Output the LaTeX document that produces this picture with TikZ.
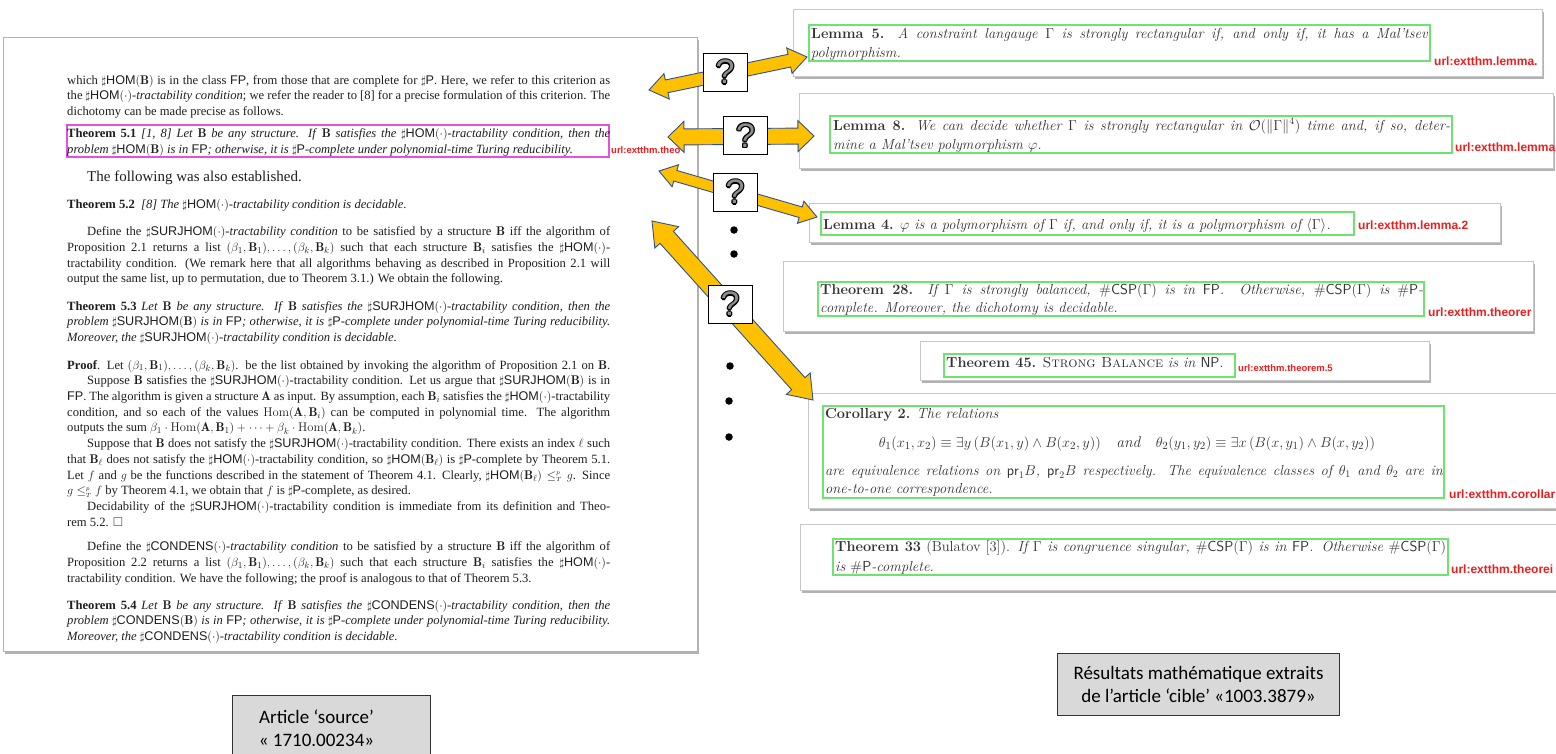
\documentclass[tikz,border=0pt]{standalone}
\usepackage{fontspec}
\usepackage{amssymb}
\newfontfamily\timesf{Liberation Serif}
\newfontfamily\arialf{Liberation Sans}
\newfontfamily\calib{Carlito}
\usetikzlibrary{calc,shadows}
\definecolor{arrowfill}{RGB}{255,192,0}
\definecolor{arrowline}{RGB}{47,82,143}
\definecolor{grn}{RGB}{110,228,110}
\definecolor{mag}{RGB}{228,80,228}
\definecolor{urlred}{RGB}{235,30,30}
\definecolor{lblfill}{RGB}{217,217,217}
\newcommand\jl[1]{\makebox[543pt][s]{#1}}
\newcommand\jw[2]{\makebox[#1pt][s]{#2}}
\newcommand\hs[1]{$\sharp${\arialf\upshape #1}}
\newcommand\fp{{\arialf\upshape FP}}
\newcommand\bB{$\mathbf{B}$}
\newcommand\dt{$(\cdot)$}
\newcommand\lst{$(\beta_1,\mathbf{B}_1),\ldots,(\beta_k,\mathbf{B}_k)$}
\newcommand\qmk{\setbox0\hbox{?}%
  \rlap{\color{black}\kern-1.2pt\copy0}\rlap{\color{black}\kern1.2pt\copy0}%
  \rlap{\color{black}\raise1.2pt\copy0}\rlap{\color{black}\lower1.2pt\copy0}%
  \rlap{\color{black}\kern-0.85pt\raise0.85pt\copy0}\rlap{\color{black}\kern0.85pt\raise0.85pt\copy0}%
  \rlap{\color{black}\kern-0.85pt\lower0.85pt\copy0}\rlap{\color{black}\kern0.85pt\lower0.85pt\copy0}%
  {\color{black!45}\box0}}
% double block arrow between two named coordinates: #3 shaft half width, #4 head half width, #5 head length
\newcommand\dblarrow[5]{%
  \draw[blockarrow] (#1) -- ($(#1)!#5pt!(#2)!#4pt!90:(#2)$) -- ($(#1)!#5pt!(#2)!#3pt!90:(#2)$)
    -- ($(#2)!#5pt!(#1)!#3pt!-90:(#1)$) -- ($(#2)!#5pt!(#1)!#4pt!-90:(#1)$) -- (#2)
    -- ($(#2)!#5pt!(#1)!#4pt!90:(#1)$) -- ($(#2)!#5pt!(#1)!#3pt!90:(#1)$)
    -- ($(#1)!#5pt!(#2)!#3pt!-90:(#2)$) -- ($(#1)!#5pt!(#2)!#4pt!-90:(#2)$) -- cycle;}
\begin{document}
\begin{tikzpicture}[x=1pt,y=-1pt,
  panel/.style={fill=white, draw=black!30, line width=0.6pt,
    drop shadow={shadow xshift=2pt, shadow yshift=-3pt, fill=black!55, opacity=0.55}},
  card/.style={fill=white, draw=black!22, line width=0.6pt, anchor=north west, inner sep=0pt,
    drop shadow={shadow xshift=1.5pt, shadow yshift=-3pt, fill=black!55, opacity=0.55}},
  gbox/.style={draw=grn, line width=1.2pt},
  mbox/.style={draw=mag, line width=1.1pt},
  txt/.style={anchor=base west, inner sep=0pt, text=black!88,
    font=\timesf\fontsize{12.6}{14}\selectfont},
  ctxt/.style={anchor=base west, inner sep=0pt, text=black!80,
    font=\fontsize{14.5}{17}\selectfont},
  url/.style={anchor=base west, inner sep=0pt, text=urlred,
    font=\arialf\bfseries\fontsize{12}{12}\selectfont},
  blockarrow/.style={fill=arrowfill, draw=arrowline, line width=0.9pt, line join=miter},
  qbox/.style={draw=black, line width=1pt, fill=white, minimum width=44, minimum height=38,
    inner sep=0pt, font=\arialf\fontsize{34}{34}\selectfont},
  dotn/.style={circle, fill=black, inner sep=0pt, minimum size=7.5},
  lbl/.style={draw=black!80, line width=1pt, fill=lblfill, anchor=north west, inner sep=0pt,
    align=center, font=\calib\fontsize{19}{23}\selectfont}
]
\fill[white] (0,0) rectangle (1556,753);
\useasboundingbox (0,0) rectangle (1556,753);

% ---------------- left source article ----------------
\node[panel, anchor=north west, minimum width=694, minimum height=614, inner sep=0pt] (src) at (3,37) {};
\draw[mbox] (67,125) rectangle (609,157);
\node[txt] (l1) at (67,84) {\jl{which \hs{HOM}$(\mathbf{B})$ is in the class \fp, from those that are complete for \hs{P}. Here, we refer to this criterion as}};
\node[txt] (l2) at (67,99.7) {\jl{the \hs{HOM}\dt-\textit{tractability condition}; we refer the reader to [8] for a precise formulation of this criterion. The}};
\node[txt] (l3) at (67,115.4) {dichotomy can be made precise as follows.};
\node[txt] (t51a) at (67,137.4) {\jl{\textbf{Theorem 5.1} \textit{[1, 8] Let} \bB{} \textit{be any structure. If} \bB{} \textit{satisfies the} \hs{HOM}\dt\textit{-tractability condition, then the}}};
\node[txt] (t51b) at (67,153.1) {\textit{problem} \hs{HOM}$(\mathbf{B})$ \textit{is in} \fp\textit{; otherwise, it is} \hs{P}\textit{-complete under polynomial-time Turing reducibility.}};
\node[url, font=\arialf\bfseries\fontsize{9.5}{10}\selectfont] (u0) at (611,153.1) {url:extthm.theo};
\node[txt, font=\timesf\fontsize{15}{16}\selectfont] (fol) at (67,181.5) {\hspace*{20pt}The following was also established.};
\node[txt] (t52) at (67,208.1) {\textbf{Theorem 5.2} \ \textit{[8] The} \hs{HOM}\dt\textit{-tractability condition is decidable.}};
\node[txt] (d1) at (67,235.6) {\jl{\hspace*{20pt}Define the \hs{SURJHOM}\dt-\textit{tractability condition} to be satisfied by a structure \bB{} iff the algorithm of}};
\node[txt] (d2) at (67,251.3) {\jl{Proposition 2.1 returns a list \lst{} such that each structure $\mathbf{B}_i$ satisfies the \hs{HOM}\dt-}};
\node[txt] (d3) at (67,267) {\jl{tractability condition. (We remark here that all algorithms behaving as described in Proposition 2.1 will}};
\node[txt] (d4) at (67,282.7) {output the same list, up to permutation, due to Theorem 3.1.) We obtain the following.};
\node[txt] (t53a) at (67,310.2) {\jl{\textbf{Theorem 5.3} \textit{Let} \bB{} \textit{be any structure. If} \bB{} \textit{satisfies the} \hs{SURJHOM}\dt\textit{-tractability condition, then the}}};
\node[txt] (t53b) at (67,325.9) {\jl{\textit{problem} \hs{SURJHOM}$(\mathbf{B})$ \textit{is in} \fp\textit{; otherwise, it is} \hs{P}\textit{-complete under polynomial-time Turing reducibility.}}};
\node[txt] (t53c) at (67,341.6) {\textit{Moreover, the} \hs{SURJHOM}\dt\textit{-tractability condition is decidable.}};
\node[txt] (p1) at (67,369.1) {\jl{\textbf{Proof}. Let \lst. be the list obtained by invoking the algorithm of Proposition 2.1 on \bB.}};
\node[txt] (p2) at (67,384.8) {\jl{\hspace*{20pt}Suppose \bB{} satisfies the \hs{SURJHOM}\dt-tractability condition. Let us argue that \hs{SURJHOM}$(\mathbf{B})$ is in}};
\node[txt] (p3) at (67,400.5) {\jl{\fp. The algorithm is given a structure $\mathbf{A}$ as input. By assumption, each $\mathbf{B}_i$ satisfies the \hs{HOM}\dt-tractability}};
\node[txt] (p4) at (67,416.2) {\jl{condition, and so each of the values $\mathrm{Hom}(\mathbf{A},\mathbf{B}_i)$ can be computed in polynomial time. The algorithm}};
\node[txt] (p5) at (67,431.9) {outputs the sum $\beta_1\cdot\mathrm{Hom}(\mathbf{A},\mathbf{B}_1)+\cdots+\beta_k\cdot\mathrm{Hom}(\mathbf{A},\mathbf{B}_k)$.};
\node[txt] (p6) at (67,447.6) {\jl{\hspace*{20pt}Suppose that \bB{} does not satisfy the \hs{SURJHOM}\dt-tractability condition. There exists an index $\ell$ such}};
\node[txt] (p7) at (67,463.3) {\jl{that $\mathbf{B}_\ell$ does not satisfy the \hs{HOM}\dt-tractability condition, so \hs{HOM}$(\mathbf{B}_\ell)$ is \hs{P}-complete by Theorem 5.1.}};
\node[txt] (p8) at (67,479) {\jl{Let $f$ and $g$ be the functions described in the statement of Theorem 4.1. Clearly, \hs{HOM}$(\mathbf{B}_\ell)\leq^{\scriptscriptstyle p}_{\scriptscriptstyle T} g$. Since}};
\node[txt] (p9) at (67,494.7) {$g\leq^{\scriptscriptstyle p}_{\scriptscriptstyle T} f$ by Theorem 4.1, we obtain that $f$ is \hs{P}-complete, as desired.};
\node[txt] (p10) at (67,510.4) {\jl{\hspace*{20pt}Decidability of the \hs{SURJHOM}\dt-tractability condition is immediate from its definition and Theo-}};
\node[txt] (p11) at (67,526.1) {rem 5.2. $\square$};
\node[txt] (c1) at (67,550.9) {\jl{\hspace*{20pt}Define the \hs{CONDENS}\dt-\textit{tractability condition} to be satisfied by a structure \bB{} iff the algorithm of}};
\node[txt] (c2) at (67,566.6) {\jl{Proposition 2.2 returns a list \lst{} such that each structure $\mathbf{B}_i$ satisfies the \hs{HOM}\dt-}};
\node[txt] (c3) at (67,582.3) {tractability condition. We have the following; the proof is analogous to that of Theorem 5.3.};
\node[txt] (t54a) at (67,609) {\jl{\textbf{Theorem 5.4} \textit{Let} \bB{} \textit{be any structure. If} \bB{} \textit{satisfies the} \hs{CONDENS}\dt\textit{-tractability condition, then the}}};
\node[txt] (t54b) at (67,624.7) {\jl{\textit{problem} \hs{CONDENS}$(\mathbf{B})$ \textit{is in} \fp\textit{; otherwise, it is} \hs{P}\textit{-complete under polynomial-time Turing reducibility.}}};
\node[txt] (t54c) at (67,640.4) {\textit{Moreover, the} \hs{CONDENS}\dt\textit{-tractability condition is decidable.}};

% ---------------- right target cards ----------------
\node[card, minimum width=749, minimum height=67] (k1) at (793,9) {};
\node[card, minimum width=754, minimum height=75] (k2) at (799,93) {};
\node[card, minimum width=691, minimum height=39] (k3) at (809,203) {};
\node[card, minimum width=750, minimum height=70] (k4) at (783,261) {};
\node[card, minimum width=509, minimum height=39] (k5) at (920,341) {};
\node[card, minimum width=752, minimum height=115] (k6) at (808,393) {};
\node[card, minimum width=760, minimum height=66] (k7) at (800,524) {};

\draw[gbox] (809,25) rectangle (1430,61);
\draw[gbox] (830,116) rectangle (1452,153);
\draw[gbox] (821,212) rectangle (1354,235);
\draw[gbox] (818,282) rectangle (1424,316);
\draw[gbox] (944,354) rectangle (1235,377);
\draw[gbox] (823,406) rectangle (1444,498);
\draw[gbox] (833,539) rectangle (1448,575);

\node[ctxt] (m5a) at (811,38) {\jw{617}{\textbf{Lemma 5.} \textit{A constraint langauge $\Gamma$ is strongly rectangular if, and only if, it has a Mal'tsev}}};
\node[ctxt] (m5b) at (811,57) {\textit{polymorphism.}};
\node[url] (u1) at (1434,65) {url:extthm.lemma.};

\node[ctxt] (m8a) at (833,130) {\jw{617}{\textbf{Lemma 8.} \textit{We can decide whether $\Gamma$ is strongly rectangular in $\mathcal{O}(\|\Gamma\|^4)$ time and, if so, deter-}}};
\node[ctxt] (m8b) at (833,149) {\textit{mine a Mal'tsev polymorphism $\varphi$.}};
\node[url] (u2) at (1455,151) {url:extthm.lemma};

\node[ctxt] (m4) at (823,229) {\textbf{Lemma 4.} \textit{$\varphi$ is a polymorphism of $\Gamma$ if, and only if, it is a polymorphism of $\langle\Gamma\rangle$.}};
\node[url] (u3) at (1358,229) {url:extthm.lemma.2};

\node[ctxt] (th28a) at (820,294) {\jw{603}{\textbf{Theorem 28.} \textit{If $\Gamma$ is strongly balanced, $\#\mathsf{CSP}(\Gamma)$ is in $\mathsf{FP}$. Otherwise, $\#\mathsf{CSP}(\Gamma)$ is $\#\mathsf{P}$-}}};
\node[ctxt] (th28b) at (820,312) {\textit{complete. Moreover, the dichotomy is decidable.}};
\node[url] (u4) at (1428,316) {url:extthm.theorer};

\node[ctxt] (th45) at (946,367) {\textbf{Theorem 45.} \textsc{Strong Balance} \textit{is in} $\mathsf{NP}$.};
\node[url, font=\arialf\bfseries\fontsize{9.5}{10}\selectfont] (u5) at (1238,371) {url:extthm.theorem.5};

\node[ctxt] (co1) at (825,418) {\textbf{Corollary 2.} \textit{The relations}};
\node[ctxt, anchor=base, font=\fontsize{15.5}{17}\selectfont] (co2) at (1127,447) {$\theta_1(x_1,x_2)\equiv\exists y\,\bigl(B(x_1,y)\wedge B(x_2,y)\bigr)\quad\textit{and}\quad\theta_2(y_1,y_2)\equiv\exists x\,\bigl(B(x,y_1)\wedge B(x,y_2)\bigr)$};
\node[ctxt] (co3) at (825,475) {\jw{618}{\textit{are equivalence relations on $\mathsf{pr}_1B$, $\mathsf{pr}_2B$ respectively. The equivalence classes of $\theta_1$ and $\theta_2$ are in}}};
\node[ctxt] (co4) at (825,493) {\textit{one-to-one correspondence.}};
\node[url] (u6) at (1449,498) {url:extthm.corollar};

\node[ctxt] (th33a) at (835,551) {\jw{611}{\textbf{Theorem 33} (Bulatov [3]). \textit{If $\Gamma$ is congruence singular, $\#\mathsf{CSP}(\Gamma)$ is in $\mathsf{FP}$. Otherwise $\#\mathsf{CSP}(\Gamma)$}}};
\node[ctxt] (th33b) at (835,571) {\textit{is $\#\mathsf{P}$-complete.}};
\node[url] (u7) at (1451,573) {url:extthm.theorei};

% ---------------- arrows ----------------
\coordinate (a1L) at (649,90);  \coordinate (a1R) at (807,57);
\coordinate (a2L) at (668,137); \coordinate (a2R) at (814,136);
\coordinate (a3L) at (659,171); \coordinate (a3R) at (817,217);
\coordinate (a4L) at (652,221); \coordinate (a4R) at (813,400);
\dblarrow{a1L}{a1R}{6.5}{13}{18}
\dblarrow{a2L}{a2R}{8}{15.5}{16}
\dblarrow{a3L}{a3R}{5.5}{11.5}{17}
\dblarrow{a4L}{a4R}{9}{16}{22}

\node[qbox] (q1) at (725,72) {\qmk};
\node[qbox] (q2) at (745.5,135.5) {\qmk};
\node[qbox] (q3) at (735,192) {\qmk};
\node[qbox] (q4) at (730,304) {\qmk};

\node[dotn] (o1) at (734,230) {};
\node[dotn] (o2) at (734,254) {};
\node[dotn] (o3) at (730,366) {};
\node[dotn] (o4) at (729,401) {};
\node[dotn] (o5) at (729,437) {};

% ---------------- labels ----------------
\node[lbl, minimum width=198, minimum height=66] (lsrc) at (232,695) {Article ‘source’\kern30pt\\« 1710.00234»\kern30pt};
\node[lbl, minimum width=282, minimum height=62] (ltgt) at (1057,653) {Résultats mathématique extraits\\de l’article ‘cible’ «1003.3879»};
\end{tikzpicture}
\end{document}
